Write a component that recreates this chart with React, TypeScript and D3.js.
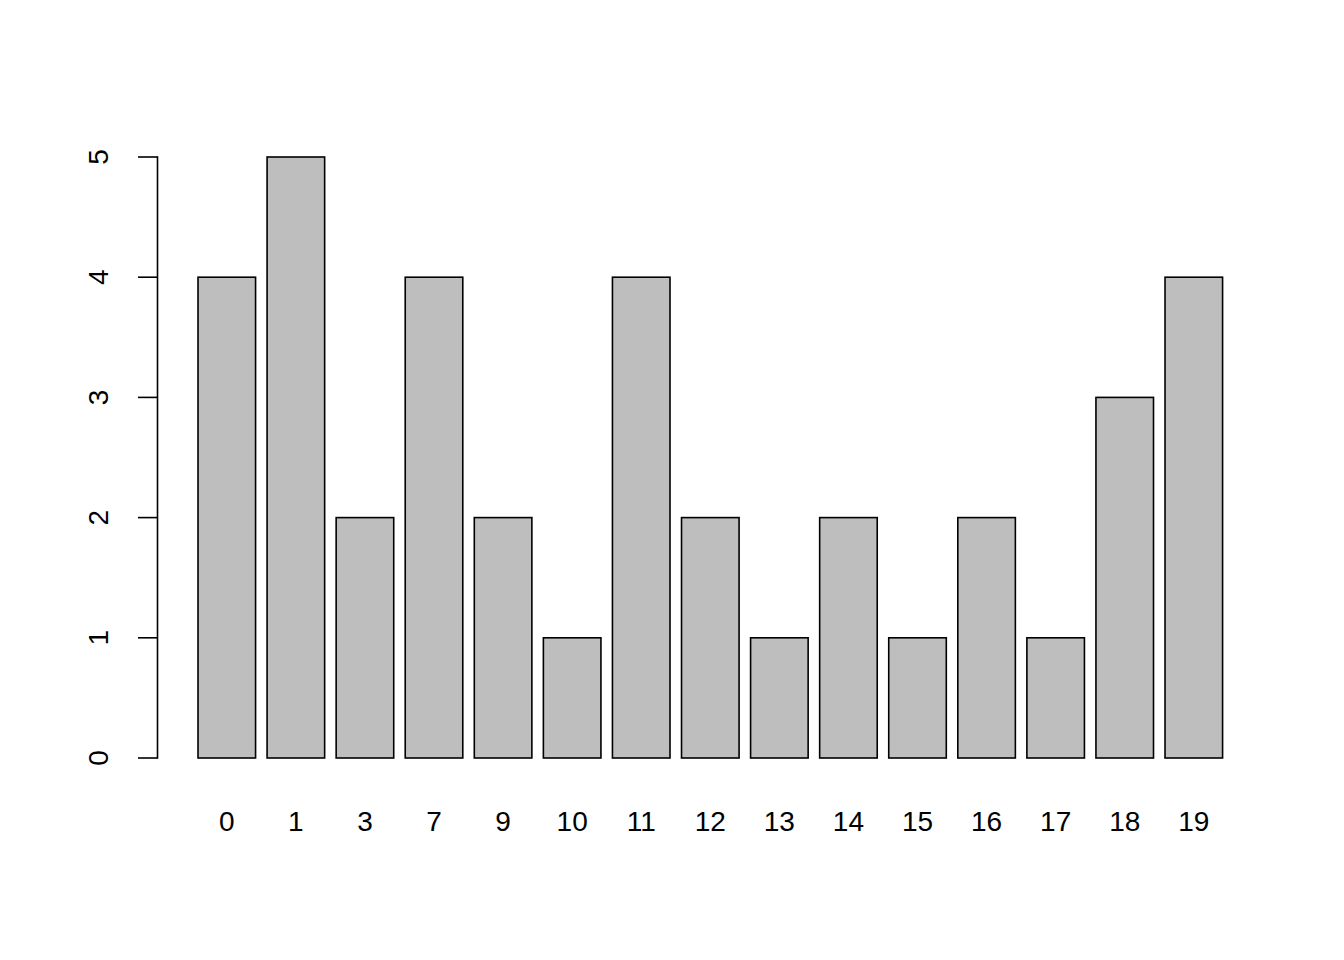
import React from "react";
import * as d3 from "d3";

const categories = ["0", "1", "3", "7", "9", "10", "11", "12", "13", "14", "15", "16", "17", "18", "19"];
const values = [4, 5, 2, 4, 2, 1, 4, 2, 1, 2, 1, 2, 1, 3, 4];
const yTicks = [0, 1, 2, 3, 4, 5];

export default function App() {
  const W = 1344, H = 960;
  // R barplot units: bar i spans [0.2 + 1.2 i, 1.2 + 1.2 i]
  const x = d3.scaleLinear().domain([0, 18.2]).range([186.5, 186.5 + 18.2 * 57.56]);
  const y = d3.scaleLinear().domain([0, 5]).range([758, 157]);
  const font = "Liberation Sans, Arial, Helvetica, sans-serif";
  const fs = 28;
  const sw = 1.6;
  return (
    <svg width={W} height={H} style={{ position: "absolute", left: 0, top: 0, background: "#fff" }}>
      <rect x={0} y={0} width={W} height={H} fill="#fff" />
      {values.map((v, i) => {
        const l = 0.2 + 1.2 * i;
        return (
          <rect key={i} x={x(l)} y={y(v)} width={x(l + 1) - x(l)} height={y(0) - y(v)}
            fill="#BEBEBE" stroke="#000" strokeWidth={sw} />
        );
      })}
      {categories.map((c, i) => (
        <text key={c} x={x(0.7 + 1.2 * i)} y={831} textAnchor="middle" fontFamily={font} fontSize={fs} fill="#000">{c}</text>
      ))}
      <line x1={157.5} x2={157.5} y1={y(0)} y2={y(5)} stroke="#000" strokeWidth={sw} strokeLinecap="square" />
      {yTicks.map(t => (
        <g key={t}>
          <line x1={138} x2={157.5} y1={y(t)} y2={y(t)} stroke="#000" strokeWidth={sw} />
          <text transform={`translate(108,${y(t)}) rotate(-90)`} textAnchor="middle" fontFamily={font} fontSize={fs} fill="#000">{t}</text>
        </g>
      ))}
    </svg>
  );
}
